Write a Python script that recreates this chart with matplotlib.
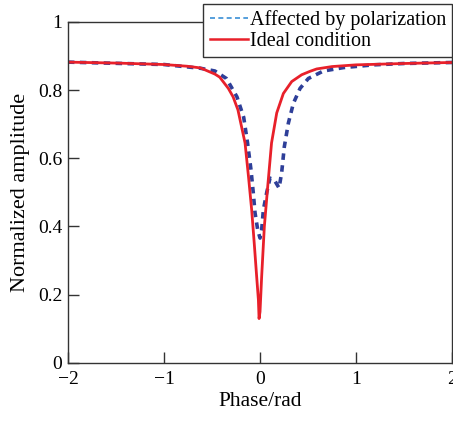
import matplotlib
matplotlib.use("Agg")
import matplotlib.pyplot as plt
from matplotlib.lines import Line2D

# Werte
phase_ideal = [-2.0, -1.46, -1.0, -0.76, -0.62, -0.47, -0.42, -0.33, -0.28, -0.23, -0.156,
               -0.12, -0.087, -0.06, -0.035, -0.017, -0.01, 0.0, 0.017, 0.045, 0.08, 0.12,
               0.174, 0.243, 0.33, 0.434, 0.52, 0.59, 0.75, 1.0, 1.5, 2.0]
amp_ideal = [0.882, 0.879, 0.875, 0.870, 0.865, 0.847, 0.838, 0.805, 0.78, 0.742, 0.645,
             0.546, 0.449, 0.35, 0.253, 0.185, 0.13, 0.15, 0.253, 0.40, 0.517, 0.645,
             0.733, 0.79, 0.825, 0.845, 0.855, 0.862, 0.869, 0.874, 0.878, 0.881]

phase_pol = [-2.0, -1.0, -0.62, -0.47, -0.35, -0.24, -0.17, -0.13, -0.094, -0.07, -0.052,
             -0.024, 0.0, 0.017, 0.035, 0.07, 0.104, 0.156, 0.198, 0.225, 0.253, 0.295,
             0.347, 0.417, 0.503, 0.66, 0.87, 1.18, 1.5, 2.0]
amp_pol = [0.882, 0.875, 0.864, 0.856, 0.834, 0.78, 0.72, 0.645, 0.566, 0.498, 0.44,
           0.39, 0.366, 0.39, 0.449, 0.50, 0.542, 0.533, 0.513, 0.557, 0.634, 0.703,
           0.761, 0.805, 0.834, 0.856, 0.866, 0.874, 0.878, 0.881]

plt.rcParams["font.family"] = ["Liberation Serif", "DejaVu Serif"]
plt.rcParams["font.size"] = 14

fig = plt.figure(figsize=(4.53, 4.21), dpi=100)
ax = fig.add_axes([0.150, 0.138, 0.848, 0.810])

ax.plot(phase_pol, amp_pol, color="#2e3f99", lw=2.6, ls=(0, (1.8, 1.5)))
ax.plot(phase_ideal, amp_ideal, color="#e8202a", lw=2.0, solid_joinstyle="round")

ax.set_xlim(-2, 2)
ax.set_ylim(0, 1)
ax.set_xticks([-2, -1, 0, 1, 2])
ax.set_xticklabels(["\u22122", "\u22121", "0", "1", "2"])
ax.set_yticks([0, 0.2, 0.4, 0.6, 0.8, 1.0])
ax.set_yticklabels(["0", "0.2", "0.4", "0.6", "0.8", "1"])
ax.tick_params(direction="in", length=8, width=1, color="#333333")
ax.tick_params(axis="x", pad=6)
ax.tick_params(axis="y", pad=4)
for s in ax.spines.values():
    s.set_color("#333333")
    s.set_linewidth(1.0)

ax.set_xlabel("Phase/rad", fontsize=15.5, labelpad=3)
ax.set_ylabel("Normalized amplitude", fontsize=16, labelpad=6)

# Legende mit eigenen Handles (im Original dünn/hellblau)
handles = [Line2D([], [], color="#3a8fd6", lw=1.2, ls=(0, (3, 2))),
           Line2D([], [], color="#e8202a", lw=1.8)]
leg = ax.legend(handles, ["Affected by polarization", "Ideal condition"],
                loc="upper right", bbox_to_anchor=(1.0, 1.053), borderaxespad=0,
                fancybox=False, edgecolor="#333333", framealpha=1,
                handlelength=1.9, handletextpad=0.1, borderpad=0.3,
                labelspacing=0.12, fontsize=14.5)
leg.get_frame().set_linewidth(1.0)

fig.savefig("out.png", dpi=100)
